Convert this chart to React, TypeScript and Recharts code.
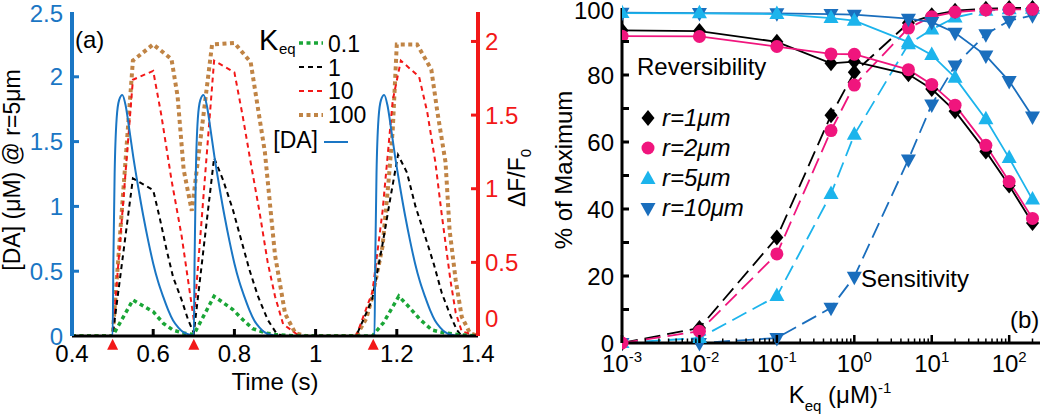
import React from 'react';
import { LineChart, Line, XAxis, YAxis, ReferenceDot } from 'recharts';

const FONT = '"Liberation Sans", Arial, Helvetica, sans-serif';
const BLUE = '#1a76c4';
const RED = '#f21818';
const GREEN = '#1aa637';
const BROWN = '#c08445';
const PINK = '#f0157d';
const LIGHT = '#1cb4ec';
const DARK = '#1a6ebd';

type Pt = [number, number];

// ---- panel (a) ----
const timeTicks = [0.4, 0.6, 0.8, 1, 1.2, 1.4];
const daTicks = [0, 0.5, 1, 1.5, 2, 2.5];
const dfTicks = [0, 0.5, 1, 1.5, 2];
const stimulusTimes = [0.5, 0.7, 1.142];

// [DA] at r=5um (uM), left axis
const daTrace: Pt[] = [
  [0.4, 0], [0.5, 0], [0.502, 0.6], [0.505, 1.25], [0.51, 1.68], [0.516, 1.82], [0.524, 1.86],
  [0.532, 1.78], [0.54, 1.62], [0.551, 1.38], [0.563, 1.15], [0.576, 0.92], [0.588, 0.73],
  [0.6, 0.56], [0.612, 0.42], [0.625, 0.3], [0.637, 0.2], [0.649, 0.12], [0.662, 0.065],
  [0.674, 0.03], [0.69, 0.01], [0.7, 0],
  [0.702, 0.6], [0.705, 1.25], [0.71, 1.68], [0.716, 1.82], [0.724, 1.86], [0.732, 1.78],
  [0.74, 1.62], [0.751, 1.38], [0.763, 1.15], [0.776, 0.92], [0.788, 0.73], [0.8, 0.56],
  [0.812, 0.42], [0.825, 0.3], [0.837, 0.2], [0.849, 0.12], [0.862, 0.065], [0.874, 0.03],
  [0.89, 0.01], [0.91, 0], [1.145, 0],
  [1.147, 0.6], [1.15, 1.25], [1.155, 1.68], [1.161, 1.82], [1.169, 1.86], [1.177, 1.78],
  [1.185, 1.62], [1.196, 1.38], [1.208, 1.15], [1.221, 0.92], [1.233, 0.73], [1.245, 0.56],
  [1.257, 0.42], [1.27, 0.3], [1.282, 0.2], [1.294, 0.12], [1.307, 0.065], [1.319, 0.03],
  [1.335, 0.01], [1.355, 0], [1.4, 0],
];

// dF/F0, right axis
const keq01: Pt[] = [
  [0.4, 0], [0.5, 0], [0.55, 0.245], [0.6, 0.165], [0.625, 0.086], [0.649, 0.04], [0.674, 0.02],
  [0.7, 0.01], [0.75, 0.27], [0.796, 0.18], [0.821, 0.11], [0.845, 0.05], [0.878, 0.02],
  [0.9, 0.01], [0.95, 0], [1.14, 0], [1.167, 0.09], [1.205, 0.27], [1.229, 0.2], [1.258, 0.11],
  [1.287, 0.04], [1.32, 0.02], [1.35, 0.01], [1.4, 0],
];
const keq1: Pt[] = [
  [0.4, 0], [0.5, 0], [0.55, 1.07], [0.6, 0.99], [0.617, 0.79], [0.633, 0.585], [0.649, 0.4],
  [0.67, 0.245], [0.686, 0.11], [0.7, 0.02], [0.75, 1.21], [0.772, 1.06], [0.796, 0.86],
  [0.817, 0.65], [0.837, 0.45], [0.858, 0.27], [0.882, 0.11], [0.903, 0.02], [0.92, 0],
  [1.1, 0], [1.139, 0.245], [1.164, 0.61], [1.185, 0.95], [1.203, 1.23], [1.225, 1.11],
  [1.246, 0.88], [1.27, 0.675], [1.291, 0.49], [1.311, 0.29], [1.332, 0.14], [1.348, 0.04],
  [1.36, 0], [1.4, 0],
];
const keq10: Pt[] = [
  [0.4, 0], [0.5, 0], [0.55, 1.74], [0.6, 1.8], [0.62, 1.5], [0.645, 1.06], [0.67, 0.68],
  [0.69, 0.3], [0.7, 0.11], [0.75, 1.87], [0.8, 1.79], [0.82, 1.5], [0.84, 1.18], [0.862, 0.84],
  [0.882, 0.5], [0.9, 0.27], [0.92, 0.08], [0.94, 0.04], [0.96, 0], [1.1, 0], [1.14, 0.3],
  [1.165, 0.85], [1.19, 1.6], [1.21, 1.87], [1.255, 1.76], [1.275, 1.52], [1.295, 1.18],
  [1.31, 0.84], [1.332, 0.38], [1.345, 0.16], [1.36, 0.03], [1.4, 0],
];
const keq100: Pt[] = [
  [0.4, 0], [0.5, 0], [0.55, 1.87], [0.6, 1.98], [0.645, 1.88], [0.66, 1.63], [0.675, 1.13],
  [0.695, 0.85], [0.745, 1.98], [0.8, 1.99], [0.84, 1.86], [0.875, 1.25], [0.9, 0.55],
  [0.925, 0.15], [0.95, 0.02], [0.975, 0], [1.1, 0], [1.125, 0.12], [1.14, 0.27], [1.165, 0.61],
  [1.18, 1.06], [1.19, 1.4], [1.2, 1.98], [1.25, 1.98], [1.285, 1.81], [1.3, 1.52], [1.32, 1.18],
  [1.33, 0.72], [1.345, 0.38], [1.36, 0.13], [1.38, 0.02], [1.4, 0],
];

// ---- panel (b) ----
const keqValues = [0.001, 0.01, 0.1, 0.5, 1, 5, 10, 20, 50, 100, 200];
const rev1um = [93.3, 93.1, 89.9, 83.5, 84.0, 80.2, 75.8, 69.2, 57.2, 47.0, 35.8];
const rev2um = [91.6, 91.5, 88.5, 86.3, 86.2, 81.6, 77.2, 71.0, 59.0, 48.2, 37.2];
const rev5um = [98.5, 98.4, 98.2, 97.0, 96.2, 89.8, 86.0, 79.2, 66.8, 55.2, 42.8];
const rev10um = [98.6, 98.5, 98.4, 98.2, 98.0, 96.8, 95.8, 92.6, 85.8, 78.2, 67.6];
const sens1um = [0, 4.5, 31.5, 68.0, 80.8, 95.5, 97.8, 99.2, 99.8, 100, 100];
const sens2um = [0, 3.5, 26.6, 63.4, 77.0, 94.0, 97.4, 98.8, 99.4, 99.6, 99.6];
const sens5um = [0, 1.5, 14.0, 44.5, 62.2, 89.2, 93.6, 97.2, 99.2, 99.6, 99.8];
const sens10um = [0, 0, 1.5, 10.5, 19.8, 54.8, 71.2, 82.8, 92.2, 96.2, 97.8];
const keqMajorTicks = [0.001, 0.01, 0.1, 1, 10, 100];
const keqTickExp = ['-3', '-2', '-1', '0', '1', '2'];
const pctTicks = [0, 10, 20, 30, 40, 50, 60, 70, 80, 90, 100];

const keqMinorTicks = keqMajorTicks.flatMap((d) =>
  [2, 3, 4, 5, 6, 7, 8, 9].map((m) => +(d * m).toPrecision(3)).filter((v) => v <= 250)
);
const keqAllTicks = [...keqMajorTicks, ...keqMinorTicks].sort((a, b) => a - b);

const toPoints = (pairs: Pt[]) => pairs.map(([t, v]) => ({ t, v }));

const panelB = keqValues.map((k, i) => ({
  k,
  rev1: rev1um[i], rev2: rev2um[i], rev5: rev5um[i], rev10: rev10um[i],
  sens1: sens1um[i], sens2: sens2um[i], sens5: sens5um[i], sens10: sens10um[i],
}));

// ---- markers ----
const diamond = (cx: number, cy: number, c: string, key?: string) => (
  <path key={key} d={`M${cx},${cy - 8}L${cx + 6.5},${cy}L${cx},${cy + 8}L${cx - 6.5},${cy}Z`} fill={c} />
);
const circle = (cx: number, cy: number, c: string, key?: string) => (
  <circle key={key} cx={cx} cy={cy} r={6.5} fill={c} />
);
const triUp = (cx: number, cy: number, c: string, key?: string) => (
  <path key={key} d={`M${cx},${cy - 8.5}L${cx + 7.5},${cy + 5}L${cx - 7.5},${cy + 5}Z`} fill={c} />
);
const triDown = (cx: number, cy: number, c: string, key?: string) => (
  <path key={key} d={`M${cx},${cy + 8.5}L${cx + 7.5},${cy - 5}L${cx - 7.5},${cy - 5}Z`} fill={c} />
);

const dotOf = (fn: typeof diamond, c: string, id: string) => (p: any) =>
  fn(p.cx, p.cy, c, `${id}-${p.index}`);

// ---- ticks ----
const TimeTick = (p: any) => {
  const { x, y, payload } = p;
  const v = payload.value;
  return (
    <g>
      {v > 0.4 && v < 1.4 && <line x1={x} x2={x} y1={y} y2={y - 7} stroke="#000" strokeWidth={3} />}
      <text x={x} y={y + 26} textAnchor="middle" fontSize={24} fontFamily={FONT} fill="#000">{String(v)}</text>
    </g>
  );
};
const TimeTopTick = (p: any) => {
  const { x, y, payload } = p;
  const v = payload.value;
  if (v <= 0.4 || v >= 1.4) return <g />;
  return <line x1={x} x2={x} y1={y} y2={y + 7} stroke="#000" strokeWidth={3} />;
};
const DaTick = (p: any) => {
  const { x, y, payload } = p;
  const v = payload.value;
  return (
    <g>
      {v > 0 && v < 2.5 && <line x1={x} x2={x + 7} y1={y} y2={y} stroke={BLUE} strokeWidth={3} />}
      <text x={x - 9} y={v === 2.5 ? y + 1 : y} dy="0.36em" textAnchor="end" fontSize={24} fontFamily={FONT} fill={BLUE}>{String(v)}</text>
    </g>
  );
};
const DfTick = (p: any) => {
  const { x, y, payload } = p;
  const v = payload.value;
  return (
    <g>
      {v > 0 && <line x1={x} x2={x - 7} y1={y} y2={y} stroke={RED} strokeWidth={3} />}
      <text x={x + 7} y={v === 0 ? y - 18 : y} dy="0.36em" textAnchor="start" fontSize={24} fontFamily={FONT} fill={RED}>{String(v)}</text>
    </g>
  );
};
const isMajor = (v: number) => keqMajorTicks.indexOf(v) >= 0;
const KeqTick = (p: any) => {
  const { x, y, payload } = p;
  const v = payload.value;
  const i = keqMajorTicks.indexOf(v);
  return (
    <g>
      <line x1={x} x2={x} y1={y} y2={y - (isMajor(v) ? 8 : 4.5)} stroke="#000" strokeWidth={isMajor(v) ? 2.5 : 1.5} />
      {i >= 0 && (
        <text x={x} y={y + 29} textAnchor="middle" fontSize={24} fontFamily={FONT} fill="#000">
          10<tspan dy={-10} fontSize={15}>{keqTickExp[i]}</tspan>
        </text>
      )}
    </g>
  );
};
const KeqTopTick = (p: any) => {
  const { x, y, payload } = p;
  const v = payload.value;
  return <line x1={x} x2={x} y1={y} y2={y + (isMajor(v) ? 8 : 4.5)} stroke="#000" strokeWidth={isMajor(v) ? 2.5 : 1.5} />;
};
const PctTick = (p: any) => {
  const { x, y, payload } = p;
  const v = payload.value;
  return (
    <g>
      {v > 0 && v < 100 && <line x1={x} x2={x + 7} y1={y} y2={y} stroke="#000" strokeWidth={3} />}
      {v % 20 === 0 && (
        <text x={x - 8} y={v === 100 ? y + 2 : y} dy="0.36em" textAnchor="end" fontSize={24} fontFamily={FONT} fill="#000">{String(v)}</text>
      )}
    </g>
  );
};
const PctRightTick = (p: any) => {
  const { x, y, payload } = p;
  const v = payload.value;
  if (v <= 0 || v >= 100) return <g />;
  return <line x1={x} x2={x - 7} y1={y} y2={y} stroke="#000" strokeWidth={3} />;
};

const T = (props: any) => <text fontFamily={FONT} fontSize={24} fill="#000" {...props} />;

const PanelA = () => (
  <LineChart width={545} height={417} margin={{ top: 12, right: 27, bottom: 0, left: 0 }}>
    <XAxis xAxisId="b" dataKey="t" type="number" domain={[0.4, 1.4]} ticks={timeTicks} allowDataOverflow
      height={81} tickSize={0} tickMargin={0} tickLine={false} tick={<TimeTick />}
      axisLine={{ stroke: '#000', strokeWidth: 3 }} />
    <XAxis xAxisId="top" orientation="top" dataKey="t" type="number" domain={[0.4, 1.4]} ticks={timeTicks}
      allowDataOverflow height={0} tickSize={0} tickMargin={0} tickLine={false} tick={<TimeTopTick />}
      axisLine={{ stroke: '#000', strokeWidth: 3 }} />
    <YAxis yAxisId="l" type="number" domain={[0, 2.5]} ticks={daTicks} width={72} allowDataOverflow
      tickSize={0} tickMargin={0} tickLine={false} tick={<DaTick />}
      axisLine={{ stroke: BLUE, strokeWidth: 4 }} />
    <YAxis yAxisId="r" orientation="right" type="number" domain={[0, 2.2]} ticks={dfTicks} width={40}
      allowDataOverflow tickSize={0} tickMargin={0} tickLine={false} tick={<DfTick />}
      axisLine={{ stroke: RED, strokeWidth: 4 }} />
    <Line xAxisId="b" yAxisId="r" data={toPoints(keq100)} dataKey="v" type="linear" stroke={BROWN}
      strokeWidth={4} strokeDasharray="4 3.5" dot={false} isAnimationActive={false} />
    <Line xAxisId="b" yAxisId="r" data={toPoints(keq10)} dataKey="v" type="linear" stroke={RED}
      strokeWidth={2} strokeDasharray="5 4" dot={false} isAnimationActive={false} />
    <Line xAxisId="b" yAxisId="r" data={toPoints(keq1)} dataKey="v" type="linear" stroke="#000"
      strokeWidth={2} strokeDasharray="5 4" dot={false} isAnimationActive={false} />
    <Line xAxisId="b" yAxisId="r" data={toPoints(keq01)} dataKey="v" type="linear" stroke={GREEN}
      strokeWidth={3.5} strokeDasharray="4 3.5" dot={false} isAnimationActive={false} />
    <Line xAxisId="b" yAxisId="l" data={toPoints(daTrace)} dataKey="v" type="monotone" stroke={BLUE}
      strokeWidth={2} dot={false} isAnimationActive={false} />
    {stimulusTimes.map((t) => (
      <ReferenceDot key={t} xAxisId="b" yAxisId="l" x={t} y={-0.068} ifOverflow="visible"
        shape={(p: any) => <path d={`M${p.cx},${p.cy - 6}L${p.cx + 5.5},${p.cy + 5}L${p.cx - 5.5},${p.cy + 5}Z`} fill={RED} />} />
    ))}
    <T x={75} y={48}>(a)</T>
    <T x={259} y={50} fontSize={29}>K</T>
    <T x={279} y={54} fontSize={15}>eq</T>
    <line x1={299} x2={323} y1={43} y2={43} stroke={GREEN} strokeWidth={3.5} strokeDasharray="4 3.5" />
    <T x={328} y={52} fontSize={23}>0.1</T>
    <line x1={299} x2={323} y1={67} y2={67} stroke="#000" strokeWidth={2} strokeDasharray="5 4" />
    <T x={328} y={76} fontSize={23}>1</T>
    <line x1={299} x2={323} y1={91} y2={91} stroke={RED} strokeWidth={2} strokeDasharray="5 4" />
    <T x={328} y={99} fontSize={23}>10</T>
    <line x1={299} x2={323} y1={115} y2={115} stroke={BROWN} strokeWidth={4} strokeDasharray="4 3.5" />
    <T x={328} y={123} fontSize={23}>100</T>
    <T x={318} y={148} fontSize={23} textAnchor="end">[DA]</T>
    <line x1={324} x2={348} y1={142} y2={142} stroke={BLUE} strokeWidth={2} />
    <T x={275} y={390} textAnchor="middle">Time (s)</T>
    <T x={12} y={170} textAnchor="middle" dominantBaseline="central" fontSize={23}
      transform="rotate(-90 12 170)">[DA] (μM) @ r=5μm</T>
    <T x={517} y={178} textAnchor="middle" dominantBaseline="central" fontSize={23}
      transform="rotate(-90 517 178)">ΔF/F<tspan dy={8} fontSize={15}>0</tspan></T>
  </LineChart>
);

const PanelB = () => (
  <LineChart width={530} height={417} data={panelB} margin={{ top: 8, right: 10, bottom: 0, left: 0 }}>
    <XAxis xAxisId="b" dataKey="k" type="number" scale="log" domain={[0.001, 250]} ticks={keqAllTicks}
      allowDataOverflow interval={0} height={74} tickSize={0} tickMargin={0} tickLine={false} tick={<KeqTick />}
      axisLine={{ stroke: '#000', strokeWidth: 3 }} />
    <XAxis xAxisId="top" orientation="top" dataKey="k" type="number" scale="log" domain={[0.001, 250]}
      ticks={keqAllTicks} allowDataOverflow interval={0} height={0} tickSize={0} tickMargin={0} tickLine={false}
      tick={<KeqTopTick />} axisLine={{ stroke: '#000', strokeWidth: 3 }} />
    <YAxis yAxisId="l" type="number" domain={[0, 100]} ticks={pctTicks} interval={0} width={102}
      tickSize={0} tickMargin={0} tickLine={false} tick={<PctTick />}
      axisLine={{ stroke: '#000', strokeWidth: 3 }} />
    <YAxis yAxisId="r" orientation="right" type="number" domain={[0, 100]} ticks={pctTicks} interval={0}
      width={0} tickSize={0} tickMargin={0} tickLine={false} tick={<PctRightTick />}
      axisLine={{ stroke: '#000', strokeWidth: 3 }} />
    <Line xAxisId="b" yAxisId="l" dataKey="sens10" stroke={DARK} strokeWidth={1.8} strokeDasharray="16 7"
      dot={dotOf(triDown, DARK, 's10')} isAnimationActive={false} />
    <Line xAxisId="b" yAxisId="l" dataKey="sens5" stroke={LIGHT} strokeWidth={1.8} strokeDasharray="16 7"
      dot={dotOf(triUp, LIGHT, 's5')} isAnimationActive={false} />
    <Line xAxisId="b" yAxisId="l" dataKey="sens1" stroke="#000" strokeWidth={1.8} strokeDasharray="16 7"
      dot={dotOf(diamond, '#000', 's1')} isAnimationActive={false} />
    <Line xAxisId="b" yAxisId="l" dataKey="sens2" stroke={PINK} strokeWidth={1.8} strokeDasharray="16 7"
      dot={dotOf(circle, PINK, 's2')} isAnimationActive={false} />
    <Line xAxisId="b" yAxisId="l" dataKey="rev10" stroke={DARK} strokeWidth={1.8}
      dot={dotOf(triDown, DARK, 'r10')} isAnimationActive={false} />
    <Line xAxisId="b" yAxisId="l" dataKey="rev5" stroke={LIGHT} strokeWidth={1.8}
      dot={dotOf(triUp, LIGHT, 'r5')} isAnimationActive={false} />
    <Line xAxisId="b" yAxisId="l" dataKey="rev1" stroke="#000" strokeWidth={1.8}
      dot={dotOf(diamond, '#000', 'r1')} isAnimationActive={false} />
    <Line xAxisId="b" yAxisId="l" dataKey="rev2" stroke={PINK} strokeWidth={1.8}
      dot={dotOf(circle, PINK, 'r2')} isAnimationActive={false} />
    <T x={117} y={75}>Reversibility</T>
    <T x={341} y={287}>Sensitivity</T>
    <T x={490} y={328}>(b)</T>
    {diamond(128, 118, '#000')}
    <T x={142} y={126} fontStyle="italic">r=1μm</T>
    {circle(128, 148, PINK)}
    <T x={142} y={156} fontStyle="italic">r=2μm</T>
    {triUp(128, 179, LIGHT)}
    <T x={142} y={186} fontStyle="italic">r=5μm</T>
    {triDown(128, 208, DARK)}
    <T x={142} y={216} fontStyle="italic">r=10μm</T>
    <T x={43} y={170} textAnchor="middle" dominantBaseline="central"
      transform="rotate(-90 43 170)">% of Maximum</T>
    <T x={320} y={403} textAnchor="middle">
      K<tspan dy={8} fontSize={15}>eq</tspan><tspan dy={-8}> (μM)</tspan><tspan dy={-10} fontSize={15}>-1</tspan>
    </T>
  </LineChart>
);

export default function App() {
  return (
    <div style={{ position: 'absolute', left: 0, top: 0, width: 1050, height: 417, background: '#fff' }}>
      <div style={{ position: 'absolute', left: 0, top: 0 }}>
        <PanelA />
      </div>
      <div style={{ position: 'absolute', left: 520, top: 0 }}>
        <PanelB />
      </div>
    </div>
  );
}
